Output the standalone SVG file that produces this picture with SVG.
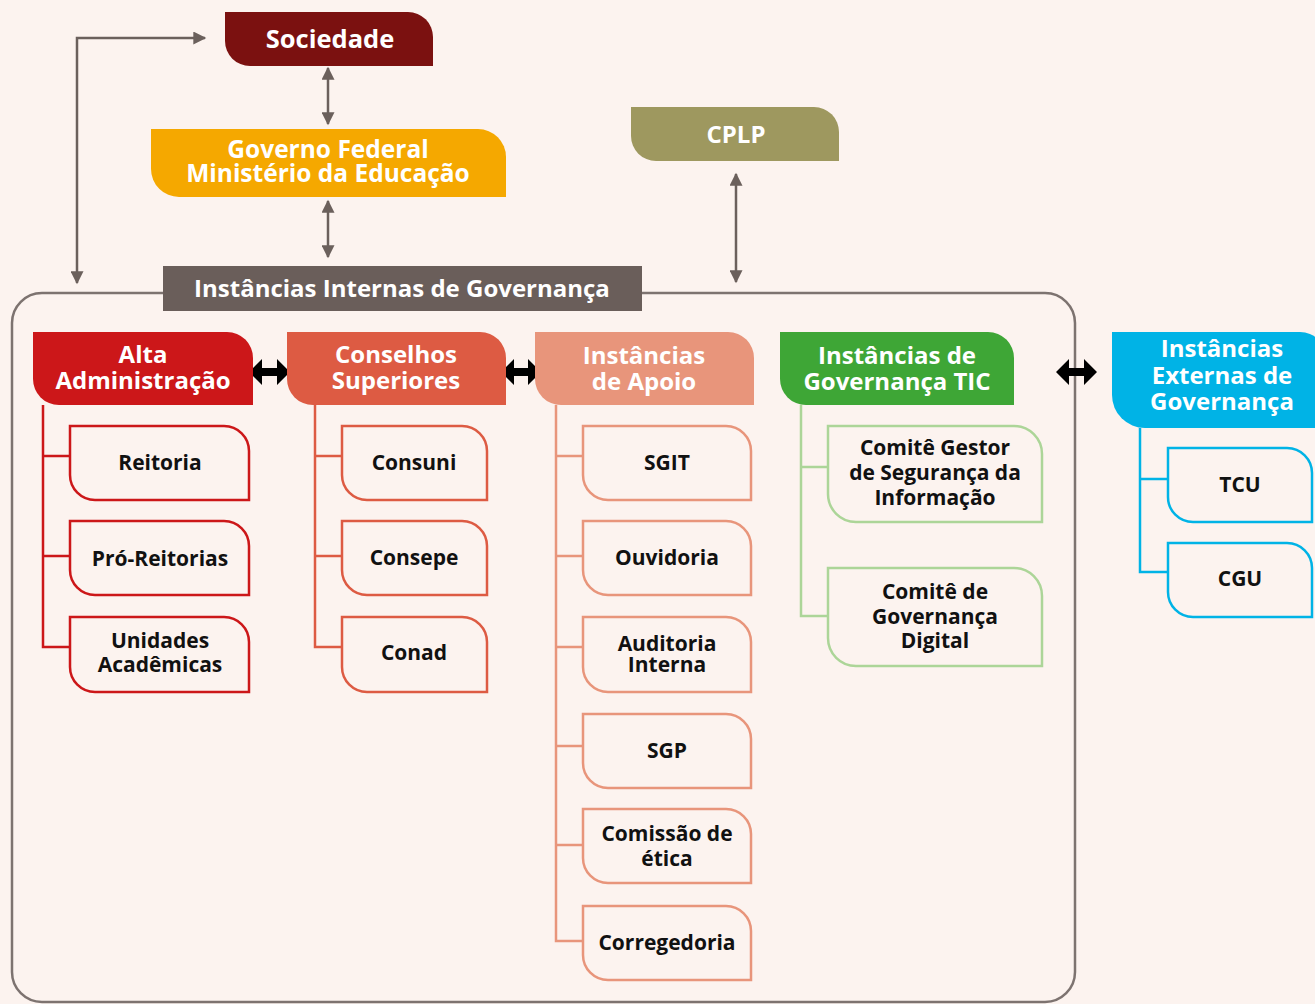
<svg xmlns="http://www.w3.org/2000/svg" width="1315" height="1004" viewBox="0 0 1315 1004">
<style>
text{font-family:"Open Sans","Noto Sans","Liberation Sans",sans-serif;font-weight:700;text-anchor:middle}
.w{fill:#ffffff;font-size:24px}
.k{fill:#111111;font-size:21px}
.gl{fill:none;stroke:#6b605c;stroke-width:2.5}
.box{fill:none;stroke-width:2.5}
.t1{stroke:#cc1719}.t2{stroke:#dd5b43}.t3{stroke:#e8957b}.t4{stroke:#acd598}.t5{stroke:#00b3e6}
.ln{fill:none;stroke-width:2.5}
</style>
<defs>
<marker id="ah" viewBox="0 0 10 10" refX="9" refY="5" markerWidth="15" markerHeight="13" markerUnits="userSpaceOnUse" orient="auto-start-reverse">
<path d="M0,0 L10,5 L0,10 z" fill="#6b605c"/>
</marker>
</defs>
<rect width="1315" height="1004" fill="#fcf3ef"/>
<rect x="12" y="293" width="1063" height="709" rx="30" fill="none" stroke="#7d7370" stroke-width="2.5"/>

<g id="connectors">
<path class="gl" d="M205,38 H77 V283" marker-start="url(#ah)" marker-end="url(#ah)"/>
<path class="gl" d="M328,68 V124" marker-start="url(#ah)" marker-end="url(#ah)"/>
<path class="gl" d="M328,201 V257" marker-start="url(#ah)" marker-end="url(#ah)"/>
<path class="gl" d="M736,174 V282" marker-start="url(#ah)" marker-end="url(#ah)"/>
<polygon fill="#000" points="249,372 262,359 262,368 277,368 277,359 290,372 277,385 277,376 262,376 262,385"/>
<polygon fill="#000" points="501,372 514,359 514,368 528,368 528,359 541,372 528,385 528,376 514,376 514,385"/>
<polygon fill="#000" points="1056,372 1069,359 1069,368 1084,368 1084,359 1097,372 1084,385 1084,376 1069,376 1069,385"/>
<path class="ln t1" d="M43,405 V647 H70 M43,456 H70 M43,556 H70"/>
<path class="ln t2" d="M315,405 V647 H342 M315,456 H342 M315,556 H342"/>
<path class="ln t3" d="M556,405 V941 H583 M556,456 H583 M556,556 H583 M556,647 H583 M556,746 H583 M556,845 H583"/>
<path class="ln t4" d="M801,405 V616 H828 M801,467 H828"/>
<path class="ln t5" d="M1140,428 V572 H1168 M1140,479 H1168"/>
</g>

<g id="sociedade">
<path d="M225,12 H408 A25,25 0 0 1 433,37 V66 H250 A25,25 0 0 1 225,41 Z" fill="#7b1110"/>
<text class="w" x="330" y="48" style="font-size:25.5px">Sociedade</text>
</g>
<g id="governo">
<path d="M151,129 H478 A28,28 0 0 1 506,157 V197 H179 A28,28 0 0 1 151,169 Z" fill="#f5a800"/>
<text class="w" x="328" y="158" style="font-size:24.5px">Governo Federal</text>
<text class="w" x="328" y="182" style="font-size:24.5px">Ministério da Educação</text>
</g>
<g id="cplp">
<path d="M631,107 H814 A25,25 0 0 1 839,132 V161 H656 A25,25 0 0 1 631,136 Z" fill="#9e985f"/>
<text class="w" x="736" y="143">CPLP</text>
</g>
<g id="internas">
<rect x="163" y="266" width="479" height="45" fill="#6a5e5a"/>
<text class="w" x="402" y="297">Instâncias Internas de Governança</text>
</g>

<g id="alta">
<path d="M33,332 H227 A26,26 0 0 1 253,358 V405 H59 A26,26 0 0 1 33,379 Z" fill="#cc1719"/>
<text class="w" x="143" y="363">Alta</text>
<text class="w" x="143" y="389">Administração</text>
</g>
<g id="conselhos">
<path d="M287,332 H480 A26,26 0 0 1 506,358 V405 H313 A26,26 0 0 1 287,379 Z" fill="#dd5b43"/>
<text class="w" x="396" y="363">Conselhos</text>
<text class="w" x="396" y="389">Superiores</text>
</g>
<g id="apoio">
<path d="M535,332 H728 A26,26 0 0 1 754,358 V405 H561 A26,26 0 0 1 535,379 Z" fill="#e8957b"/>
<text class="w" x="644" y="364">Instâncias</text>
<text class="w" x="644" y="390">de Apoio</text>
</g>
<g id="tic">
<path d="M780,332 H988 A26,26 0 0 1 1014,358 V405 H806 A26,26 0 0 1 780,379 Z" fill="#3ea636"/>
<text class="w" x="897" y="364">Instâncias de</text>
<text class="w" x="897" y="390">Governança TIC</text>
</g>
<g id="externas">
<path d="M1112,332 H1300 A26,26 0 0 1 1326,358 V428 H1145 A33,33 0 0 1 1112,395 Z" fill="#00b3e6"/>
<text class="w" x="1222" y="357">Instâncias</text>
<text class="w" x="1222" y="384">Externas de</text>
<text class="w" x="1222" y="410">Governança</text>
</g>

<g id="reitoria"><path class="box t1" d="M70,426 H224 A25,25 0 0 1 249,451 V500 H95 A25,25 0 0 1 70,475 Z"/><text class="k" x="160" y="470">Reitoria</text></g>
<g id="pro-reitorias"><path class="box t1" d="M70,521 H224 A25,25 0 0 1 249,546 V595 H95 A25,25 0 0 1 70,570 Z"/><text class="k" x="160" y="566">Pró-Reitorias</text></g>
<g id="unidades"><path class="box t1" d="M70,617 H224 A25,25 0 0 1 249,642 V692 H95 A25,25 0 0 1 70,667 Z"/><text class="k" x="160" y="648">Unidades</text><text class="k" x="160" y="672">Acadêmicas</text></g>

<g id="consuni"><path class="box t2" d="M342,426 H462 A25,25 0 0 1 487,451 V500 H367 A25,25 0 0 1 342,475 Z"/><text class="k" x="414" y="470">Consuni</text></g>
<g id="consepe"><path class="box t2" d="M342,521 H462 A25,25 0 0 1 487,546 V595 H367 A25,25 0 0 1 342,570 Z"/><text class="k" x="414" y="565">Consepe</text></g>
<g id="conad"><path class="box t2" d="M342,617 H462 A25,25 0 0 1 487,642 V692 H367 A25,25 0 0 1 342,667 Z"/><text class="k" x="414" y="660">Conad</text></g>

<g id="sgit"><path class="box t3" d="M583,426 H726 A25,25 0 0 1 751,451 V500 H608 A25,25 0 0 1 583,475 Z"/><text class="k" x="667" y="470">SGIT</text></g>
<g id="ouvidoria"><path class="box t3" d="M583,521 H726 A25,25 0 0 1 751,546 V595 H608 A25,25 0 0 1 583,570 Z"/><text class="k" x="667" y="565">Ouvidoria</text></g>
<g id="auditoria"><path class="box t3" d="M583,617 H726 A25,25 0 0 1 751,642 V692 H608 A25,25 0 0 1 583,667 Z"/><text class="k" x="667" y="651">Auditoria</text><text class="k" x="667" y="672">Interna</text></g>
<g id="sgp"><path class="box t3" d="M583,714 H726 A25,25 0 0 1 751,739 V788 H608 A25,25 0 0 1 583,763 Z"/><text class="k" x="667" y="758">SGP</text></g>
<g id="comissao"><path class="box t3" d="M583,809 H726 A25,25 0 0 1 751,834 V883 H608 A25,25 0 0 1 583,858 Z"/><text class="k" x="667" y="841">Comissão de</text><text class="k" x="667" y="866">ética</text></g>
<g id="corregedoria"><path class="box t3" d="M583,906 H726 A25,25 0 0 1 751,931 V980 H608 A25,25 0 0 1 583,955 Z"/><text class="k" x="667" y="950">Corregedoria</text></g>

<g id="comite-gestor"><path class="box t4" d="M828,426 H1014 A28,28 0 0 1 1042,454 V522 H856 A28,28 0 0 1 828,494 Z"/><text class="k" x="935" y="455">Comitê Gestor</text><text class="k" x="935" y="480">de Segurança da</text><text class="k" x="935" y="505">Informação</text></g>
<g id="comite-digital"><path class="box t4" d="M828,568 H1014 A28,28 0 0 1 1042,596 V666 H856 A28,28 0 0 1 828,638 Z"/><text class="k" x="935" y="599">Comitê de</text><text class="k" x="935" y="624">Governança</text><text class="k" x="935" y="648">Digital</text></g>

<g id="tcu"><path class="box t5" d="M1168,448 H1287 A25,25 0 0 1 1312,473 V522 H1193 A25,25 0 0 1 1168,497 Z"/><text class="k" x="1240" y="492">TCU</text></g>
<g id="cgu"><path class="box t5" d="M1168,543 H1287 A25,25 0 0 1 1312,568 V617 H1193 A25,25 0 0 1 1168,592 Z"/><text class="k" x="1240" y="586">CGU</text></g>
</svg>
